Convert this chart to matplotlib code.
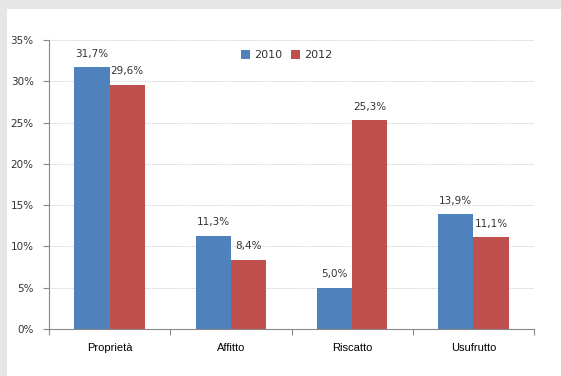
from matplotlib import pyplot as plt
from matplotlib.patches import Rectangle
import numpy as np

# dati
categorie = ['Proprietà', 'Affitto', 'Riscatto', 'Usufrutto']
anni = ['2010', '2012']
val_2010 = [31.7, 11.3, 5.0, 13.9]
val_2012 = [29.6, 8.4, 25.3, 11.1]
yticks = [0, 5, 10, 15, 20, 25, 30, 35]

blu = '#4F81BD'
rosso = '#C0504D'

fig = plt.figure(figsize=(5.61, 3.76), dpi=100)
fig.patch.set_facecolor('#e6e6e6')
# pannello bianco
fig.patches.append(Rectangle((7/561, 0), 1, 1 - 9/376, transform=fig.transFigure,
                             facecolor='white', edgecolor='none', zorder=-10))

ax = fig.add_axes([49/561, 1 - 329/376, (534 - 49)/561, (329 - 40)/376])
ax.set_facecolor('none')

x = np.arange(len(categorie)) + 0.5
w = 0.29
b1 = ax.bar(x - w/2, val_2010, w, color=blu, label=anni[0], zorder=2)
b2 = ax.bar(x + w/2, val_2012, w, color=rosso, label=anni[1], zorder=2)

for bars, vals in ((b1, val_2010), (b2, val_2012)):
    for r, v in zip(bars, vals):
        ax.text(r.get_x() + r.get_width()/2, v + 1.0, ('%.1f%%' % v).replace('.', ','),
                ha='center', va='bottom', fontsize=7.5, color='#333333')

ax.set_xlim(0, 4)
ax.set_ylim(0, 35)
ax.set_yticks(yticks)
ax.set_yticklabels(['%d%%' % t for t in yticks], fontsize=7.5, color='#333333')
ax.yaxis.grid(True, color='#d4d4d4', linestyle=(0, (2, 1)), linewidth=0.6, zorder=0)
ax.set_xticks([0, 1, 2, 3, 4])
ax.set_xticklabels([])
ax.set_xticks(x, minor=True)
ax.set_xticklabels(categorie, minor=True, fontsize=8, family='Liberation Sans')
ax.tick_params(axis='x', which='minor', length=0, pad=10)
ax.tick_params(axis='x', which='major', length=4, color='#888888')
ax.tick_params(axis='y', length=4, color='#888888', pad=7)
for s in ['top', 'right']:
    ax.spines[s].set_visible(False)
ax.spines['left'].set_color('#888888')
ax.spines['bottom'].set_color('#888888')

ax.legend(loc='upper center', bbox_to_anchor=(0.49, 1.0), ncol=2, frameon=False,
          fontsize=8, handlelength=0.8, handleheight=0.8, handletextpad=0.4,
          columnspacing=0.8, labelcolor='#333333')

fig.savefig('out.png', dpi=100, facecolor=fig.get_facecolor())
